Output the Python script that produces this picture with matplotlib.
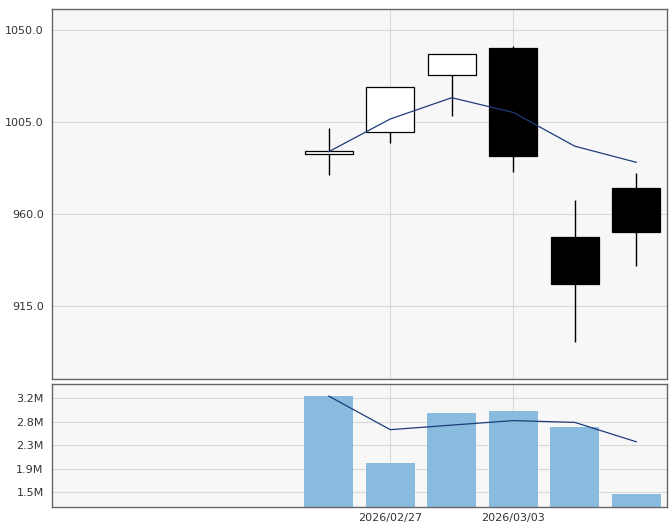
import matplotlib
matplotlib.use("Agg")
import matplotlib.pyplot as plt
import numpy as np

# trading days shown (first 4 slots are empty)
dates = ["", "", "", "", "2026/02/26", "2026/02/27", "2026/03/02", "2026/03/03", "2026/03/04", "2026/03/05"]
label_dates = ["2026/02/27", "2026/03/03"]

opens = [989.5, 1000.0, 1027.8, 1041.2, 948.7, 972.6]
highs = [1001.9, 1022.0, 1038.1, 1042.2, 966.8, 979.9]
lows = [979.1, 994.6, 1007.8, 980.7, 897.2, 934.5]
closes = [990.6, 1022.0, 1038.1, 988.5, 925.6, 951.3]
price_ma = [990.5, 1006.5, 1016.9, 1009.7, 993.2, 985.3]

volumes = [3.233e6, 2.01e6, 2.918e6, 2.955e6, 2.659e6, 1.438e6]
volume_ma = [3.233e6, 2.616e6, 2.70e6, 2.783e6, 2.75e6, 2.394e6]

price_ticks = [915.0, 960.0, 1005.0, 1050.0]
vol_ticks = [1.47e6, 1.90e6, 2.33e6, 2.76e6, 3.19e6]

BG = "#f7f7f7"
GRID = "#d9d9d9"
EDGE = "#666666"
MA_COLOR = "#1f3c7a"
BAR_COLOR = "#88bbdd"

fig = plt.figure(figsize=(6.72, 5.25), dpi=100)
ax = fig.add_axes([52 / 672, 1 - 379 / 525, 615 / 672, 370 / 525])
axv = fig.add_axes([52 / 672, 1 - 507 / 525, 615 / 672, 123 / 525])

n = len(dates)
xs = np.arange(n - len(opens), n)
grid_x = [dates.index(d) for d in label_dates]

for a in (ax, axv):
    a.set_facecolor(BG)
    a.set_xlim(-0.5, n - 0.5)
    for s in a.spines.values():
        s.set_color(EDGE)
        s.set_linewidth(1)
    for gx in grid_x:
        a.axvline(gx, color=GRID, lw=0.8, zorder=0)
    a.tick_params(length=0, labelsize=8, colors="#333333", pad=6)

# price panel
ax.set_ylim(879.3, 1060.3)
ax.set_yticks(price_ticks)
ax.set_yticklabels([f"{t:.1f}" for t in price_ticks])
for t in price_ticks:
    ax.axhline(t, color=GRID, lw=0.8, zorder=0)
ax.set_xticks([])

ax.vlines(xs, lows, highs, color="black", lw=1, zorder=2)
for x, o, c in zip(xs, opens, closes):
    up = c >= o
    ax.bar(x, abs(c - o), bottom=min(o, c), width=0.78,
           color="white" if up else "black", edgecolor="black", lw=0.9, zorder=3)
ax.plot(xs, price_ma, color=MA_COLOR, lw=0.9, zorder=4)

# volume panel
axv.set_ylim(1.196e6, 3.455e6)
axv.set_yticks(vol_ticks)
axv.set_yticklabels([f"{t / 1e6:.1f}M" for t in vol_ticks])
for t in vol_ticks:
    axv.axhline(t, color=GRID, lw=0.8, zorder=0)
axv.bar(xs, volumes, width=0.8, color=BAR_COLOR, zorder=2)
axv.plot(xs, volume_ma, color=MA_COLOR, lw=0.9, zorder=3)
axv.set_xticks(grid_x)
axv.set_xticklabels(label_dates)
axv.tick_params(axis="x", pad=4)

fig.savefig("out.png", dpi=100)
